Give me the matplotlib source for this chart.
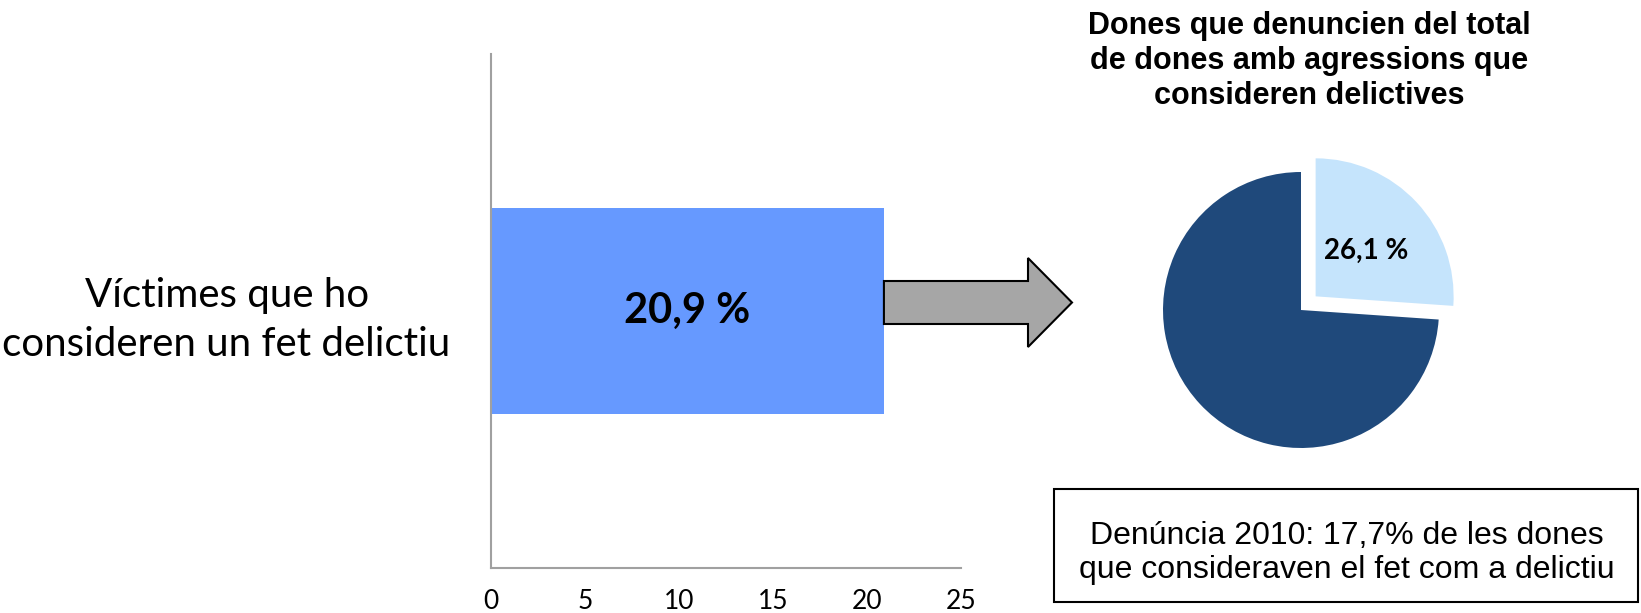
import matplotlib
matplotlib.use('Agg')
import matplotlib.pyplot as plt
import numpy as np
from matplotlib.patches import FancyArrow, Rectangle

# data
category = ['Víctimes que ho\nconsideren un fet delictiu']
bar_values = [20.9]
bar_labels = ['20,9 %']
x_ticks = [0, 5, 10, 15, 20, 25]

pie_values = [26.1, 73.9]
pie_labels = ['26,1 %', '']
pie_title = 'Dones que denuncien del total\nde dones amb agressions que\nconsideren delictives'
note = 'Denúncia 2010: 17,7% de les dones\nque consideraven el fet com a delictiu'

W, H = 1641, 613
fig = plt.figure(figsize=(W / 100, H / 100), dpi=100)

# bar chart
ax = fig.add_axes([491 / W, (H - 568) / H, (961 - 491) / W, 514 / H])
ax.barh([0], bar_values, height=0.4, color='#6699FF')
ax.set_xlim(0, 25)
ax.set_ylim(-0.5, 0.5)
ax.set_xticks(x_ticks)
ax.set_xticklabels([str(t) for t in x_ticks], fontfamily='Lato', fontsize=19)
ax.set_yticks([0])
ax.set_yticklabels(category, fontfamily='Lato', fontsize=29, multialignment='center',
                   linespacing=1.4)
ax.tick_params(axis='x', length=0, pad=15)
ax.tick_params(axis='y', length=0, pad=29)
for s in ['top', 'right']:
    ax.spines[s].set_visible(False)
for s in ['left', 'bottom']:
    ax.spines[s].set_color('#A0A0A0')
    ax.spines[s].set_linewidth(1.5)
for v, lab in zip(bar_values, bar_labels):
    ax.text(v / 2, 0, lab, ha='center', va='center', fontfamily='Lato',
            fontweight='bold', fontsize=30)

# pie chart
r = 138
cx, cy = 1301, 310
side = 2 * r * 1.3
pax = fig.add_axes([(cx - side / 2) / W, (H - cy - side / 2) / H, side / W, side / H])
pax.pie(pie_values, colors=['#C5E4FC', '#1F497B'], startangle=90, counterclock=False,
        explode=[0.145, 0], radius=1, wedgeprops={'linewidth': 0})
pax.set_xlim(-1.3, 1.3)
pax.set_ylim(-1.3, 1.3)
pax.set_aspect('equal')
pax.axis('off')
# label for the small slice
ang = np.deg2rad(90 - 360 * pie_values[0] / sum(pie_values) / 2)
pax.text(0.645 * np.cos(ang), 0.625 * np.sin(ang), pie_labels[0], ha='center', va='center',
         fontfamily='Lato', fontweight='bold', fontsize=20)

fig.text(1309 / W, 1 - 61 / H, pie_title, ha='center', va='center',
         fontfamily='Liberation Sans', fontweight='bold', fontsize=22, linespacing=1.2)

# overlay for arrow and note box (pixel coordinates)
ov = fig.add_axes([0, 0, 1, 1])
ov.set_xlim(0, W)
ov.set_ylim(H, 0)
ov.axis('off')
fig.canvas.draw()
x0 = ax.transData.transform((bar_values[0], 0))[0]
ov.add_patch(FancyArrow(x0, 302.5, 1072 - x0, 0, width=43, head_width=89, head_length=44,
                        length_includes_head=True, facecolor='#A6A6A6', edgecolor='black',
                        linewidth=1.5))
ov.add_patch(Rectangle((1054, 489), 584, 113, facecolor='white', edgecolor='black', linewidth=1.5))
ov.text(1347, 553, note, ha='center', va='center', fontfamily='Liberation Sans',
        fontsize=23, linespacing=1.2)

fig.savefig('out.png', dpi=100)
